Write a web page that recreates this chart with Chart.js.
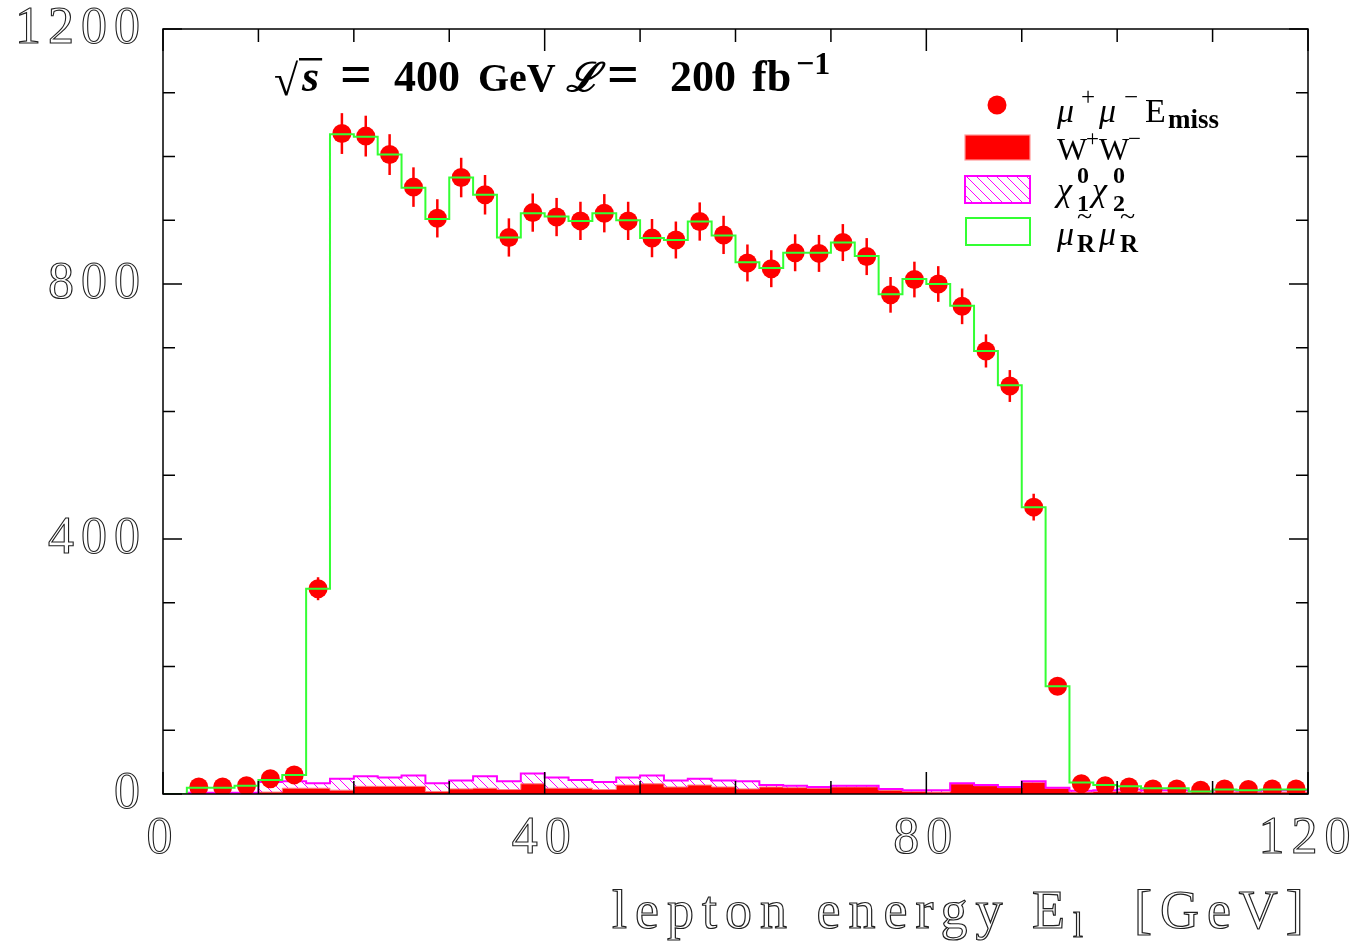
<!DOCTYPE html>
<html><head><meta charset="utf-8">
<script src="https://cdn.jsdelivr.net/npm/chart.js@4.4.1/dist/chart.umd.min.js"></script>
<style>html,body{margin:0;padding:0;background:#fff;}#wrap{width:1361px;height:942px;position:relative;}</style>
</head><body><div id="wrap"><canvas id="c" width="1361" height="942"></canvas></div>
<script>
// ---- data (2.5 GeV bins) ----
const binLow = [0,2.5,5,7.5,10,12.5,15,17.5,20,22.5,25,27.5,30,32.5,35,37.5,40,42.5,45,47.5,50,52.5,55,57.5,
                60,62.5,65,67.5,70,72.5,75,77.5,80,82.5,85,87.5,90,92.5,95,97.5,100,102.5,105,107.5,110,112.5,115,117.5];
const binWidth = 2.5;
const dataCounts = [null,11,11,13,24,30,322,1036,1032,1003,952,903,967,940,873,912,905,899,911,899,872,869,898,877,
                    833,824,849,848,865,843,783,807,800,765,695,640,450,169,16,13,11,8,8,6,8,7,8,8];
const dataErrors = [0,3,3,4,5,5,18,32,32,32,31,30,31,31,30,30,30,30,30,30,30,29,30,30,
                    29,29,29,29,29,29,28,28,28,28,26,25,21,13,4,4,3,3,3,3,3,3,3,3];
const signalHist = [0,10,10,13,22,30,322,1035,1031,1003,951,902,967,940,873,911,906,899,911,900,872,869,898,876,
                    834,825,849,849,865,844,784,808,800,766,695,641,450,169,18,14,12,9,9,4,7,6,7,7];
const wwHist = [0,1,1,1,3,9,9,6,12,12,12,4,8,9,7,16,9,9,7,14,16,11,14,11,
                8,11,10,9,11,11,6,4,3,16,13,10,18,9,3,4,4,3,3,2,3,3,3,3];
const chiHist = [0,1,1,1,16,11,8,18,16,14,17,13,13,19,13,16,17,13,12,12,13,10,10,10,
                 12,3,3,2,2,2,2,2,3,1,1,1,2,1,2,2,3,3,3,2,3,2,3,3];
const xTickLabels = [0,40,80,120];
const yTickLabels = [0,400,800,1200];
const xMinorStep = 10, yMinorStep = 100;

// ---- helpers ----
function stepPoints(vals){
  const pts = vals.map((v,i)=>({x: binLow[i], y: v}));
  pts.push({x: binLow[binLow.length-1]+binWidth, y: vals[vals.length-1]});
  return pts;
}
const chiTop = wwHist.map((v,i)=>v+chiHist[i]);
const pointData = [];
dataCounts.forEach((v,i)=>{ if(v!==null) pointData.push({x: binLow[i]+binWidth/2, y: v, err: dataErrors[i]}); });

const pc = document.createElement('canvas'); pc.width = 10; pc.height = 10;
const pctx = pc.getContext('2d');
pctx.strokeStyle = '#ff00ff'; pctx.lineWidth = 1;
pctx.beginPath();
pctx.moveTo(-1,-1); pctx.lineTo(11,11);
pctx.moveTo(-1,9); pctx.lineTo(1,11);
pctx.moveTo(9,-1); pctx.lineTo(11,1);
pctx.stroke();
const hatch = pctx.createPattern(pc,'repeat');

const SERIF = "'Liberation Serif','DejaVu Serif',serif";

function fnt(p){ return (p.style||'') + ' ' + p.size + 'px ' + (p.family||SERIF); }
function drawRich(ctx, x, y, parts){
  let cx = x;
  parts.forEach(p=>{
    if (p.x !== undefined) cx = p.x;
    ctx.font = fnt(p);
    const w1 = ctx.measureText(p.t).width;
    ctx.fillText(p.t, cx, y + (p.dy||0));
    let w = w1;
    if (p.stackWith) {
      ctx.font = fnt(p.stackWith);
      const w2 = ctx.measureText(p.stackWith.t).width;
      ctx.fillText(p.stackWith.t, cx + (p.stackWith.dx||0), y + (p.stackWith.dy||0));
      w = Math.max(w1, w2);
    }
    cx += w + (p.gap||0);
  });
  return cx;
}

const decorPlugin = {
  id: 'decor',
  beforeDraw(chart){ chart.ctx.letterSpacing = '7px'; },
  beforeDatasetsDraw(chart){ chart.ctx.letterSpacing = '0px'; },
  beforeDatasetDraw(chart, args){
    if (args.index !== 1) return;
    const ctx = chart.ctx, xs = chart.scales.x, ys = chart.scales.y, a = chart.chartArea;
    ctx.save();
    ctx.beginPath(); ctx.rect(a.left, a.top, a.right-a.left, a.bottom-a.top); ctx.clip();
    ctx.strokeStyle = '#ff0000'; ctx.lineWidth = 2.5;
    pointData.forEach(p=>{
      const px = xs.getPixelForValue(p.x);
      ctx.beginPath();
      ctx.moveTo(px, ys.getPixelForValue(p.y - p.err));
      ctx.lineTo(px, ys.getPixelForValue(p.y + p.err));
      ctx.stroke();
    });
    ctx.restore();
  },
  afterDatasetsDraw(chart){
    const ctx = chart.ctx, xs = chart.scales.x, ys = chart.scales.y, a = chart.chartArea;
    ctx.save();
    ctx.letterSpacing = '0px';
    // frame
    ctx.strokeStyle = '#000'; ctx.lineWidth = 1.5;
    ctx.strokeRect(a.left, a.top, a.right-a.left, a.bottom-a.top);
    // ticks (inward, all four sides)
    for (let v = xs.min; v <= xs.max + 1e-9; v += xMinorStep){
      const px = xs.getPixelForValue(v);
      const len = (xTickLabels.includes(v)) ? 22 : 13;
      ctx.beginPath();
      ctx.moveTo(px, a.bottom); ctx.lineTo(px, a.bottom - len);
      ctx.moveTo(px, a.top); ctx.lineTo(px, a.top + len);
      ctx.stroke();
    }
    for (let v = ys.min; v <= ys.max + 1e-9; v += yMinorStep){
      const py = ys.getPixelForValue(v);
      const len = (yTickLabels.includes(v)) ? 19 : 12;
      ctx.beginPath();
      ctx.moveTo(a.left, py); ctx.lineTo(a.left + len, py);
      ctx.moveTo(a.right, py); ctx.lineTo(a.right - len, py);
      ctx.stroke();
    }
    // axis title
    ctx.letterSpacing = '8px';
    ctx.strokeStyle = '#222'; ctx.lineWidth = 1.2;
    ctx.textBaseline = 'alphabetic'; ctx.textAlign = 'left';
    const title = [
      {t:'lepton', size:54}, {t:' ', size:54}, {t:'energy', size:54}, {t:' ', size:54},
      {t:'E', size:54}, {t:'l', size:36, dy:9}, {t:'  ', size:54}, {t:'[GeV]', size:54}
    ];
    let tx = 612;
    title.forEach(p=>{
      ctx.font = p.size + 'px ' + SERIF;
      ctx.strokeText(p.t, tx, 928 + (p.dy||0));
      tx += ctx.measureText(p.t).width;
    });
    ctx.letterSpacing = '0px';
    ctx.restore();

    // annotation
    ctx.save();
    ctx.letterSpacing = '0px';
    ctx.fillStyle = '#000'; ctx.textBaseline = 'alphabetic'; ctx.textAlign = 'left';
    const ay = 91;
    ctx.font = 'bold 44px ' + SERIF;
    ctx.fillText('\u221A', 274, ay + 4);
    ctx.font = 'bold italic 44px ' + SERIF;
    const sw = ctx.measureText('s').width;
    ctx.fillText('s', 302, ay);
    ctx.fillRect(299, ay - 33, sw + 6, 2.5);
    drawRich(ctx, 0, ay, [
      {t:'=', size:56, style:'bold', x:340, dy:2},
      {t:'400', size:44, style:'bold', x:394},
      {t:'GeV', size:40, style:'bold', x:478},
      {t:'\u2112', size:40, style:'bold italic', x:566},
      {t:'=', size:56, style:'bold', x:607, dy:2},
      {t:'200', size:44, style:'bold', x:670},
      {t:'fb', size:44, style:'bold', x:752},
      {t:'\u22121', size:32, style:'bold', dy:-17, x:796}
    ]);
    ctx.restore();

    // legend
    ctx.save();
    ctx.letterSpacing = '0px';
    ctx.fillStyle = '#ff0000';
    ctx.beginPath(); ctx.arc(997, 105, 9.5, 0, Math.PI*2); ctx.fill();
    ctx.fillRect(965, 135, 65, 25);
    ctx.strokeStyle = '#ff9a9a'; ctx.lineWidth = 1.2; ctx.strokeRect(965, 135, 65, 25);
    ctx.fillStyle = hatch; ctx.fillRect(965, 176, 65, 27);
    ctx.strokeStyle = '#ff00ff'; ctx.lineWidth = 2; ctx.strokeRect(965, 176, 65, 27);
    ctx.fillStyle = '#fff'; ctx.fillRect(966, 218, 64, 27);
    ctx.strokeStyle = '#33ff33'; ctx.lineWidth = 2; ctx.strokeRect(966, 218, 64, 27);

    ctx.fillStyle = '#000'; ctx.textBaseline = 'alphabetic';
    drawRich(ctx, 0, 122, [
      {t:'\u03BC', size:34, style:'italic', x:1057}, {t:'+', size:25, dy:-17, x:1081},
      {t:'\u03BC', size:34, style:'italic', x:1099}, {t:'\u2212', size:25, dy:-17, x:1124},
      {t:'E', size:34, x:1145}, {t:'miss', size:27, style:'bold', dy:6, x:1168}
    ]);
    drawRich(ctx, 0, 160, [
      {t:'W', size:32, x:1057}, {t:'+', size:23, dy:-14, x:1086},
      {t:'W', size:32, x:1099}, {t:'\u2212', size:23, dy:-14, x:1128}
    ]);
    drawRich(ctx, 0, 201, [
      {t:'\u03C7', size:34, style:'italic', x:1057},
      {t:'0', size:24, style:'bold', dy:-18, x:1077, stackWith:{t:'1', size:24, style:'bold', dy:10}},
      {t:'\u03C7', size:34, style:'italic', x:1092},
      {t:'0', size:24, style:'bold', dy:-18, x:1113, stackWith:{t:'2', size:24, style:'bold', dy:10}}
    ]);
    drawRich(ctx, 0, 245, [
      {t:'\u03BC', size:34, style:'italic', x:1057},
      {t:'~', size:28, dy:-20, x:1077, stackWith:{t:'R', size:25, style:'bold', dy:7}},
      {t:'\u03BC', size:34, style:'italic', x:1099},
      {t:'~', size:28, dy:-20, x:1120, stackWith:{t:'R', size:25, style:'bold', dy:7}}
    ]);
    ctx.restore();
  }
};

const tickFont = {family: SERIF, size: 52};
new Chart(document.getElementById('c'), {
  type: 'line',
  data: {
    datasets: [
      { label: '\u03BC\u0303R\u03BC\u0303R', data: stepPoints(signalHist), stepped: 'before',
        borderColor: '#33ff33', borderWidth: 2, pointRadius: 0, fill: false, order: 0 },
      { label: '\u03BC+\u03BC\u2212Emiss', data: pointData, showLine: false,
        pointRadius: 9.5, pointHoverRadius: 9.5, pointBackgroundColor: '#ff0000', pointBorderWidth: 0,
        pointBorderColor: '#ff0000', order: 1 },
      { label: '\u03C710\u03C720', data: stepPoints(chiTop), stepped: 'before',
        borderColor: '#ff00ff', borderWidth: 2, pointRadius: 0, backgroundColor: hatch, fill: 3, order: 2 },
      { label: 'W+W\u2212', data: stepPoints(wwHist), stepped: 'before',
        borderColor: '#ff8080', borderWidth: 1, pointRadius: 0, backgroundColor: '#ff0000', fill: 'origin', order: 3 }
    ]
  },
  options: {
    responsive: false, animation: false, devicePixelRatio: 1,
    layout: { padding: { top: 29, right: 53, left: 0, bottom: 0 } },
    plugins: { legend: { display: false }, tooltip: { enabled: false } },
    scales: {
      x: { type: 'linear', min: 0, max: 120,
        afterFit: s => { s.height = 148; },
        afterBuildTicks: s => { s.ticks = xTickLabels.map(v=>({value: v})); },
        grid: { display: false, drawTicks: false }, border: { display: false },
        ticks: { font: tickFont, color: 'rgba(0,0,0,0)', textStrokeColor: '#222', textStrokeWidth: 1.1,
                 padding: 14, maxRotation: 0, autoSkip: false, callback: v => String(v) } },
      y: { type: 'linear', min: 0, max: 1200,
        afterFit: s => { s.width = 163; s.paddingTop = 0; s.paddingBottom = 0; },
        afterBuildTicks: s => { s.ticks = yTickLabels.map(v=>({value: v})); },
        grid: { display: false, drawTicks: false }, border: { display: false },
        ticks: { font: tickFont, color: 'rgba(0,0,0,0)', textStrokeColor: '#222', textStrokeWidth: 1.1,
                 padding: 16, autoSkip: false, callback: v => String(v) } }
    }
  },
  plugins: [decorPlugin]
});
</script></body></html>
